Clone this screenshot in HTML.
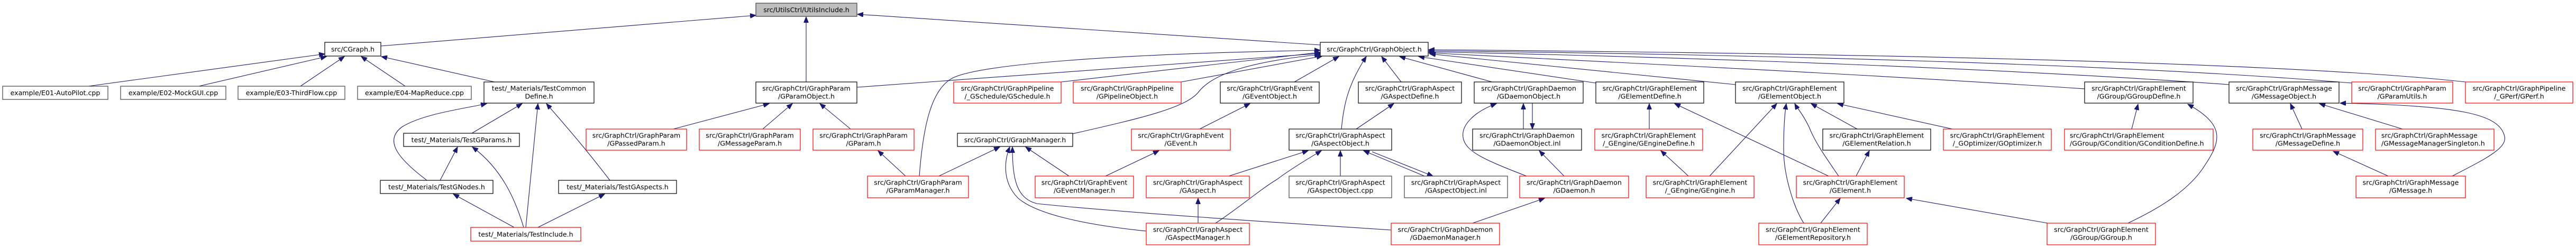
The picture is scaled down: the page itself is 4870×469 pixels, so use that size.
<!DOCTYPE html>
<html><head><meta charset="utf-8">
<style>
html,body{margin:0;padding:0;background:#fff;}
svg{display:block;}
text{font-family:"DejaVu Sans","Liberation Sans",sans-serif;font-size:12.6px;fill:#000;}
.b{fill:#fff;stroke:#000;stroke-width:1.2;}
.l{fill:#fff;stroke:#404040;stroke-width:1.2;}
.r{fill:#fff;stroke:#ff0000;stroke-width:1.2;}
.g{fill:#bfbfbf;stroke:#404040;stroke-width:1.2;}
.e{fill:none;stroke:#191970;stroke-width:1.1;marker-end:url(#a);}
</style></head><body>
<svg width="4870" height="469" viewBox="0 0 4870 469" xmlns="http://www.w3.org/2000/svg">
<defs><marker id="a" markerUnits="userSpaceOnUse" markerWidth="12" markerHeight="9" refX="11" refY="4.5" orient="auto"><path d="M0,0 L11,4.5 L0,9 z" fill="#191970" stroke="#191970"/></marker></defs>

<!-- edges -->
<path class="e" d="M720,87 L1429,29"/>
<path class="e" d="M1524,155 L1524,32"/>
<path class="e" d="M2496,85 L1621,27"/>
<path class="e" d="M167,163 L614,102"/>
<path class="e" d="M376,163 L617,107"/>
<path class="e" d="M568,163 L651,107"/>
<path class="e" d="M766,163 L683,107"/>
<path class="e" d="M935,155 L721,107"/>
<path class="e" d="M892,252 L987,196"/>
<path class="e" d="M807,341 C760,305 722,268 760,240 C800,215 880,205 920,196"/>
<path class="e" d="M994,430 L1017,196"/>
<path class="e" d="M1153,341 C1110,285 1080,250 1033,196"/>
<path class="e" d="M832,341 L865,278"/>
<path class="e" d="M990,430 C975,380 950,320 893,278"/>
<path class="e" d="M972,430 L857,367"/>
<path class="e" d="M1017,430 L1143,367"/>
<path class="e" d="M1273,244 L1454,196"/>
<path class="e" d="M1442,244 L1498,196"/>
<path class="e" d="M1608,244 L1550,196"/>
<path class="e" d="M1620,165 L2496,101"/>
<path class="e" d="M1712,333 L1660,285"/>
<path class="e" d="M1775,333 L1890,278"/>
<path class="e" d="M1738,333 C1745,240 1760,170 1800,148 C1850,122 2100,102 2496,95"/>
<path class="e" d="M2006,155 L2496,99"/>
<path class="e" d="M2233,155 L2500,106"/>
<path class="e" d="M2447,155 L2531,107"/>
<path class="e" d="M2028,253 C2150,225 2240,205 2265,175 C2295,135 2380,115 2496,103"/>
<path class="e" d="M2268,244 L2363,196"/>
<path class="e" d="M2090,333 L2191,285"/>
<path class="e" d="M2021,333 L1939,278"/>
<path class="e" d="M2167,437 C2050,425 1960,405 1925,375 C1895,345 1898,305 1909,278"/>
<path class="e" d="M2630,435 C2400,420 2100,400 1960,385 C1922,375 1914,340 1914,278"/>
<path class="e" d="M2265,422 L2265,375"/>
<path class="e" d="M2298,422 C2340,395 2380,360 2413,340 C2440,320 2470,302 2498,285"/>
<path class="e" d="M2323,333 L2473,285"/>
<path class="e" d="M2564,244 L2635,196"/>
<path class="e" d="M2536,244 C2540,200 2548,160 2583,107"/>
<path class="e" d="M2649,155 L2612,107"/>
<path class="e" d="M2821,155 L2646,107"/>
<path class="e" d="M3017,157 L2682,107"/>
<path class="e" d="M3281,160 L2703,102"/>
<path class="e" d="M3941,168 C3600,145 3200,125 2701,100"/>
<path class="e" d="M4214,160 C3800,130 3200,108 2701,98"/>
<path class="e" d="M4446,157 C4000,120 3300,103 2701,96"/>
<path class="e" d="M4661,155 C4300,115 3400,100 2701,94"/>
<path class="e" d="M2534,333 L2534,285"/>
<path class="e" d="M2693,333 L2578,285"/>
<path class="e" d="M2594,287 L2709,333"/>
<path class="e" d="M2880,244 L2880,196"/>
<path class="e" d="M2897,195 L2897,244"/>
<path class="e" d="M2886,333 C2800,300 2770,285 2766,260 C2762,235 2790,210 2829,196"/>
<path class="e" d="M2957,333 L2910,285"/>
<path class="e" d="M2784,422 L2920,375"/>
<path class="e" d="M3118,244 L3118,196"/>
<path class="e" d="M3192,333 L3140,285"/>
<path class="e" d="M3232,333 L3359,196"/>
<path class="e" d="M3457,333 L3166,196"/>
<path class="e" d="M3476,333 C3450,295 3432,270 3420,240 C3408,215 3398,205 3393,196"/>
<path class="e" d="M3410,422 C3390,390 3372,330 3372,283 C3372,240 3374,215 3377,196"/>
<path class="e" d="M3511,244 L3424,196"/>
<path class="e" d="M3691,244 L3474,196"/>
<path class="e" d="M3509,333 L3534,285"/>
<path class="e" d="M3442,422 L3479,375"/>
<path class="e" d="M3871,422 L3604,375"/>
<path class="e" d="M4023,422 C4080,395 4140,360 4170,310 C4200,265 4205,235 4136,197"/>
<path class="e" d="M4030,244 L4042,197"/>
<path class="e" d="M4352,244 L4330,196"/>
<path class="e" d="M4542,244 L4385,196"/>
<path class="e" d="M4636,333 C4700,300 4740,280 4735,258 C4725,215 4650,200 4424,195"/>
<path class="e" d="M4515,333 L4411,286"/>

<!-- nodes -->
<rect class="g" x="1429" y="6" width="191" height="25"/><text x="1524.5" y="23" text-anchor="middle">src/UtilsCtrl/UtilsInclude.h</text>
<rect class="b" x="614" y="80" width="106" height="26"/><text x="667" y="97.5" text-anchor="middle">src/CGraph.h</text>
<rect class="b" x="2496" y="80" width="204" height="26"/><text x="2598" y="97.5" text-anchor="middle">src/GraphCtrl/GraphObject.h</text>

<rect class="l" x="5" y="163" width="199" height="25"/><text x="104.5" y="180" text-anchor="middle">example/E01-AutoPilot.cpp</text>
<rect class="l" x="228" y="163" width="199" height="25"/><text x="327.5" y="180" text-anchor="middle">example/E02-MockGUI.cpp</text>
<rect class="l" x="450" y="163" width="202" height="25"/><text x="551" y="180" text-anchor="middle">example/E03-ThirdFlow.cpp</text>
<rect class="l" x="676" y="163" width="215" height="25"/><text x="783.5" y="180" text-anchor="middle">example/E04-MapReduce.cpp</text>

<rect class="b" x="915" y="155" width="208" height="40"/><text x="1019" y="171.5" text-anchor="middle">test/_Materials/TestCommon</text><text x="1019" y="186.5" text-anchor="middle">Define.h</text>
<rect class="b" x="1429" y="155" width="191" height="40"/><text x="1524.5" y="171.5" text-anchor="middle">src/GraphCtrl/GraphParam</text><text x="1524.5" y="186.5" text-anchor="middle">/GParamObject.h</text>
<rect class="r" x="1803" y="155" width="203" height="40"/><text x="1904.5" y="171.5" text-anchor="middle">src/GraphCtrl/GraphPipeline</text><text x="1904.5" y="186.5" text-anchor="middle">/_GSchedule/GSchedule.h</text>
<rect class="r" x="2029" y="155" width="204" height="40"/><text x="2131" y="171.5" text-anchor="middle">src/GraphCtrl/GraphPipeline</text><text x="2131" y="186.5" text-anchor="middle">/GPipelineObject.h</text>
<rect class="b" x="2307" y="155" width="187" height="40"/><text x="2400.5" y="171.5" text-anchor="middle">src/GraphCtrl/GraphEvent</text><text x="2400.5" y="186.5" text-anchor="middle">/GEventObject.h</text>
<rect class="b" x="2568" y="155" width="195" height="40"/><text x="2665.5" y="171.5" text-anchor="middle">src/GraphCtrl/GraphAspect</text><text x="2665.5" y="186.5" text-anchor="middle">/GAspectDefine.h</text>
<rect class="b" x="2787" y="155" width="206" height="40"/><text x="2890" y="171.5" text-anchor="middle">src/GraphCtrl/GraphDaemon</text><text x="2890" y="186.5" text-anchor="middle">/GDaemonObject.h</text>
<rect class="b" x="3017" y="155" width="204" height="40"/><text x="3119" y="171.5" text-anchor="middle">src/GraphCtrl/GraphElement</text><text x="3119" y="186.5" text-anchor="middle">/GElementDefine.h</text>
<rect class="b" x="3281" y="155" width="205" height="40"/><text x="3383.5" y="171.5" text-anchor="middle">src/GraphCtrl/GraphElement</text><text x="3383.5" y="186.5" text-anchor="middle">/GElementObject.h</text>
<rect class="b" x="3941" y="155" width="205" height="40"/><text x="4043.5" y="171.5" text-anchor="middle">src/GraphCtrl/GraphElement</text><text x="4043.5" y="186.5" text-anchor="middle">/GGroup/GGroupDefine.h</text>
<rect class="b" x="4214" y="155" width="208" height="40"/><text x="4318" y="171.5" text-anchor="middle">src/GraphCtrl/GraphMessage</text><text x="4318" y="186.5" text-anchor="middle">/GMessageObject.h</text>
<rect class="r" x="4446" y="155" width="191" height="40"/><text x="4541.5" y="171.5" text-anchor="middle">src/GraphCtrl/GraphParam</text><text x="4541.5" y="186.5" text-anchor="middle">/GParamUtils.h</text>
<rect class="r" x="4661" y="155" width="203" height="40"/><text x="4762.5" y="171.5" text-anchor="middle">src/GraphCtrl/GraphPipeline</text><text x="4762.5" y="186.5" text-anchor="middle">/_GPerf/GPerf.h</text>

<rect class="b" x="763" y="252" width="219" height="25"/><text x="872.5" y="269" text-anchor="middle">test/_Materials/TestGParams.h</text>
<rect class="r" x="1108" y="244" width="190" height="40"/><text x="1203" y="260.5" text-anchor="middle">src/GraphCtrl/GraphParam</text><text x="1203" y="275.5" text-anchor="middle">/GPassedParam.h</text>
<rect class="r" x="1322" y="244" width="191" height="40"/><text x="1417.5" y="260.5" text-anchor="middle">src/GraphCtrl/GraphParam</text><text x="1417.5" y="275.5" text-anchor="middle">/GMessageParam.h</text>
<rect class="r" x="1537" y="244" width="191" height="40"/><text x="1632.5" y="260.5" text-anchor="middle">src/GraphCtrl/GraphParam</text><text x="1632.5" y="275.5" text-anchor="middle">/GParam.h</text>
<rect class="b" x="1810" y="252" width="218" height="25"/><text x="1919" y="269" text-anchor="middle">src/GraphCtrl/GraphManager.h</text>
<rect class="r" x="2139" y="244" width="187" height="40"/><text x="2232.5" y="260.5" text-anchor="middle">src/GraphCtrl/GraphEvent</text><text x="2232.5" y="275.5" text-anchor="middle">/GEvent.h</text>
<rect class="b" x="2437" y="244" width="194" height="40"/><text x="2534" y="260.5" text-anchor="middle">src/GraphCtrl/GraphAspect</text><text x="2534" y="275.5" text-anchor="middle">/GAspectObject.h</text>
<rect class="b" x="2784" y="244" width="206" height="40"/><text x="2887" y="260.5" text-anchor="middle">src/GraphCtrl/GraphDaemon</text><text x="2887" y="275.5" text-anchor="middle">/GDaemonObject.inl</text>
<rect class="r" x="3015" y="244" width="204" height="40"/><text x="3117" y="260.5" text-anchor="middle">src/GraphCtrl/GraphElement</text><text x="3117" y="275.5" text-anchor="middle">/_GEngine/GEngineDefine.h</text>
<rect class="b" x="3446" y="244" width="204" height="40"/><text x="3548" y="260.5" text-anchor="middle">src/GraphCtrl/GraphElement</text><text x="3548" y="275.5" text-anchor="middle">/GElementRelation.h</text>
<rect class="r" x="3674" y="244" width="204" height="40"/><text x="3776" y="260.5" text-anchor="middle">src/GraphCtrl/GraphElement</text><text x="3776" y="275.5" text-anchor="middle">/_GOptimizer/GOptimizer.h</text>
<rect class="r" x="3903" y="244" width="281" height="40"/><text x="3913" y="260.5">src/GraphCtrl/GraphElement</text><text x="3913" y="275.5">/GGroup/GCondition/GConditionDefine.h</text>
<rect class="r" x="4259" y="244" width="208" height="40"/><text x="4363" y="260.5" text-anchor="middle">src/GraphCtrl/GraphMessage</text><text x="4363" y="275.5" text-anchor="middle">/GMessageDefine.h</text>
<rect class="r" x="4491" y="244" width="224" height="40"/><text x="4502" y="260.5">src/GraphCtrl/GraphMessage</text><text x="4502" y="275.5">/GMessageManagerSingleton.h</text>

<rect class="b" x="719" y="341" width="213" height="25"/><text x="825.5" y="358" text-anchor="middle">test/_Materials/TestGNodes.h</text>
<rect class="b" x="1056" y="341" width="223" height="25"/><text x="1167.5" y="358" text-anchor="middle">test/_Materials/TestGAspects.h</text>
<rect class="r" x="1640" y="333" width="191" height="41"/><text x="1735.5" y="349.5" text-anchor="middle">src/GraphCtrl/GraphParam</text><text x="1735.5" y="364.5" text-anchor="middle">/GParamManager.h</text>
<rect class="r" x="1957" y="333" width="186" height="41"/><text x="2050" y="349.5" text-anchor="middle">src/GraphCtrl/GraphEvent</text><text x="2050" y="364.5" text-anchor="middle">/GEventManager.h</text>
<rect class="r" x="2167" y="333" width="195" height="41"/><text x="2264.5" y="349.5" text-anchor="middle">src/GraphCtrl/GraphAspect</text><text x="2264.5" y="364.5" text-anchor="middle">/GAspect.h</text>
<rect class="l" x="2437" y="333" width="194" height="41"/><text x="2534" y="349.5" text-anchor="middle">src/GraphCtrl/GraphAspect</text><text x="2534" y="364.5" text-anchor="middle">/GAspectObject.cpp</text>
<rect class="l" x="2655" y="333" width="195" height="41"/><text x="2752.5" y="349.5" text-anchor="middle">src/GraphCtrl/GraphAspect</text><text x="2752.5" y="364.5" text-anchor="middle">/GAspectObject.inl</text>
<rect class="r" x="2873" y="333" width="206" height="41"/><text x="2976" y="349.5" text-anchor="middle">src/GraphCtrl/GraphDaemon</text><text x="2976" y="364.5" text-anchor="middle">/GDaemon.h</text>
<rect class="r" x="3112" y="333" width="204" height="41"/><text x="3214" y="349.5" text-anchor="middle">src/GraphCtrl/GraphElement</text><text x="3214" y="364.5" text-anchor="middle">/_GEngine/GEngine.h</text>
<rect class="r" x="3396" y="333" width="204" height="41"/><text x="3498" y="349.5" text-anchor="middle">src/GraphCtrl/GraphElement</text><text x="3498" y="364.5" text-anchor="middle">/GElement.h</text>
<rect class="r" x="4454" y="333" width="207" height="41"/><text x="4557.5" y="349.5" text-anchor="middle">src/GraphCtrl/GraphMessage</text><text x="4557.5" y="364.5" text-anchor="middle">/GMessage.h</text>

<rect class="r" x="890" y="430" width="208" height="26"/><text x="994" y="447.5" text-anchor="middle">test/_Materials/TestInclude.h</text>
<rect class="r" x="2167" y="422" width="195" height="41"/><text x="2264.5" y="438.5" text-anchor="middle">src/GraphCtrl/GraphAspect</text><text x="2264.5" y="453.5" text-anchor="middle">/GAspectManager.h</text>
<rect class="r" x="2630" y="422" width="205" height="41"/><text x="2732.5" y="438.5" text-anchor="middle">src/GraphCtrl/GraphDaemon</text><text x="2732.5" y="453.5" text-anchor="middle">/GDaemonManager.h</text>
<rect class="r" x="3325" y="422" width="205" height="41"/><text x="3427.5" y="438.5" text-anchor="middle">src/GraphCtrl/GraphElement</text><text x="3427.5" y="453.5" text-anchor="middle">/GElementRepository.h</text>
<rect class="r" x="3870" y="422" width="205" height="41"/><text x="3972.5" y="438.5" text-anchor="middle">src/GraphCtrl/GraphElement</text><text x="3972.5" y="453.5" text-anchor="middle">/GGroup/GGroup.h</text>
</svg>
</body></html>
